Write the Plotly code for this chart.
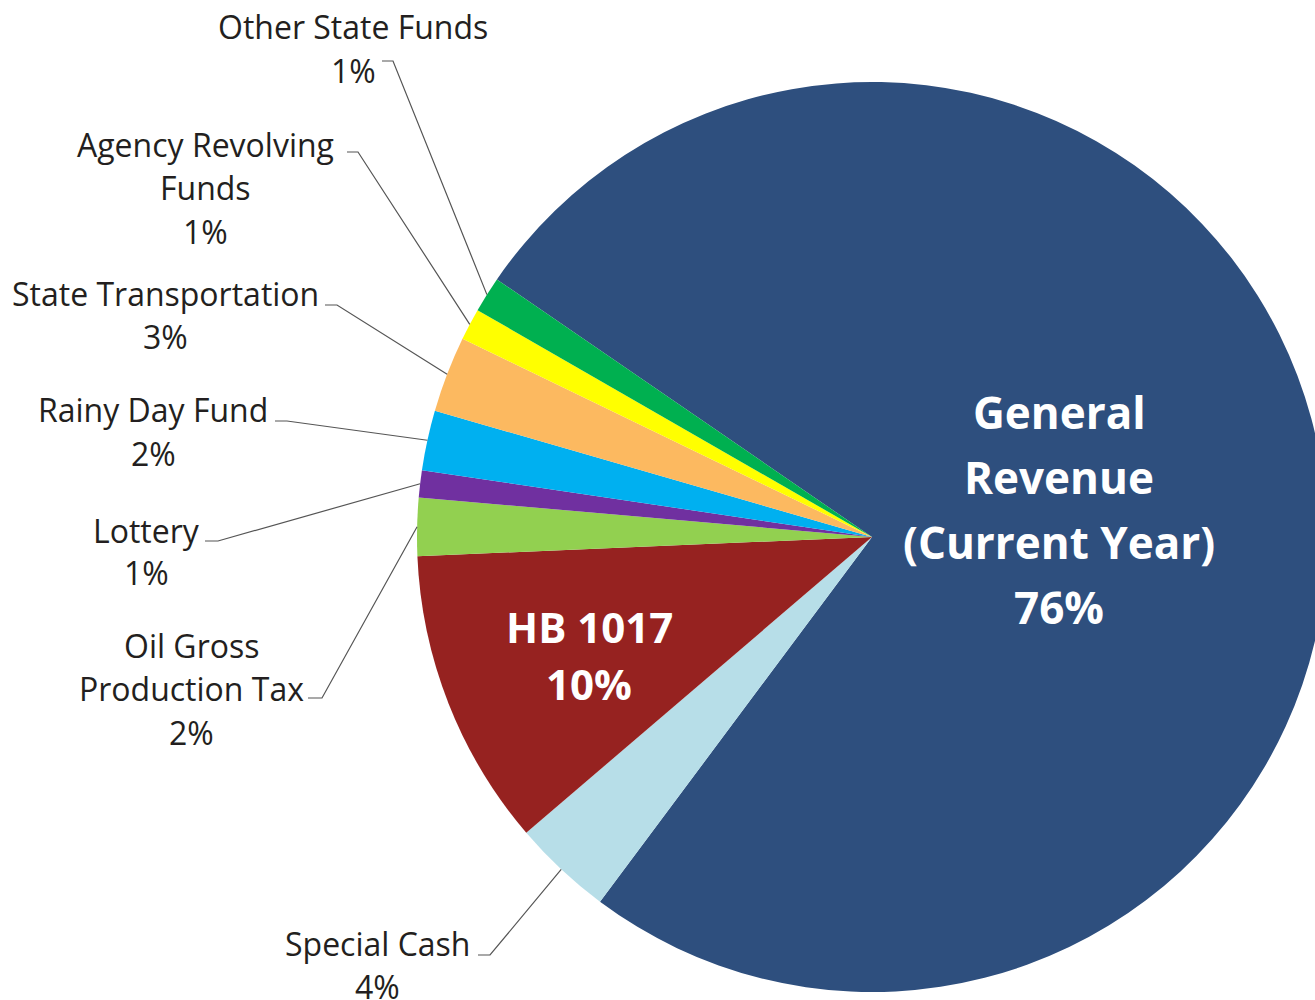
import math
import plotly.graph_objects as go

# ---------------- data ----------------
categories = ["General Revenue (Current Year)", "Special Cash", "HB 1017",
              "Oil Gross Production Tax", "Lottery", "Rainy Day Fund",
              "State Transportation", "Agency Revolving Funds", "Other State Funds"]
values = [75.63, 3.54, 10.59, 2.06, 0.96, 2.13, 2.70, 1.13, 1.27]
pct_labels = ["76%", "4%", "10%", "2%", "1%", "2%", "3%", "1%", "1%"]
label_lines = [["General", "Revenue", "(Current Year)"], ["Special Cash"], ["HB 1017"],
               ["Oil Gross", "Production Tax"], ["Lottery"], ["Rainy Day Fund"],
               ["State Transportation"], ["Agency Revolving", "Funds"], ["Other State Funds"]]
colors = ["#2E4F7E", "#B7DEE8", "#962220", "#92D050", "#7030A0",
          "#00B0F0", "#FCB960", "#FFFF00", "#00B050"]

# ---------------- layout geometry (pixels) ----------------
W, H = 1327, 1000
CX, CY, R = 872, 537, 455
START_DEG = 145.53          # math angle where first slice starts (clockwise)

# label placement: center x, first line y, line spacing, inside?, stub (x0, x1, y)
label_layout = [
    dict(x=1059, y=412, dy=65, inside=True, size=44),
    dict(x=377, y=943.5, dy=43, stub=(478, 490, 955)),
    dict(x=589, y=626, dy=57, inside=True, size=42),
    dict(x=191, y=645, dy=43.5, stub=(308, 322, 698)),
    dict(x=146, y=530, dy=42.5, stub=(205, 218, 541)),
    dict(x=153, y=410, dy=43.5, stub=(275, 287, 421)),
    dict(x=165, y=293.5, dy=43.5, stub=(325, 337, 305)),
    dict(x=205, y=144, dy=44, stub=(347, 358, 152)),
    dict(x=353, y=26.5, dy=43.5, stub=(382, 393, 61)),
]

FONT = "Open Sans, Lato, Noto Sans, sans-serif"


def px(x):
    return x / W


def py(y):
    return 1 - y / H


fig = go.Figure()
fig.add_trace(go.Pie(
    labels=categories, values=values, sort=False, direction="clockwise",
    rotation=-(START_DEG - 90), textinfo="none", hoverinfo="label+percent",
    marker=dict(colors=colors, line=dict(width=0)),
    domain=dict(x=[(CX - R) / W, (CX + R) / W], y=[1 - (CY + R) / H, 1 - (CY - R) / H]),
    showlegend=False,
))

annotations = []
shapes = []
total = sum(values)
cum = 0.0
for i, v in enumerate(values):
    mid = math.radians(START_DEG - (cum + v / 2) / total * 360)
    cum += v
    lay = label_layout[i]
    lines = label_lines[i] + [pct_labels[i]]
    for k, t in enumerate(lines):
        if lay.get("inside"):
            annotations.append(dict(
                x=px(lay["x"]), y=py(lay["y"] + k * lay["dy"]), xref="paper", yref="paper",
                text="<b>" + t + "</b>", showarrow=False, xanchor="center", yanchor="middle",
                font=dict(family=FONT, size=lay["size"], color="white")))
        else:
            annotations.append(dict(
                x=px(lay["x"]), y=py(lay["y"] + k * lay["dy"]), xref="paper", yref="paper",
                text=t, showarrow=False, xanchor="center", yanchor="middle",
                font=dict(family=FONT, size=32, color="#231F20")))
    if "stub" in lay:
        x0, x1, ys = lay["stub"]
        ex = CX + R * math.cos(mid)
        ey = CY - R * math.sin(mid)
        path = "M {} {} L {} {} L {} {}".format(px(x0), py(ys), px(x1), py(ys), px(ex), py(ey))
        shapes.append(dict(type="path", xref="paper", yref="paper", path=path,
                           line=dict(color="#555555", width=1.2)))

fig.update_layout(
    width=W, height=H, margin=dict(l=0, r=0, t=0, b=0),
    paper_bgcolor="white", plot_bgcolor="white",
    annotations=annotations, shapes=shapes,
)

fig.write_html("out.html", config={"displayModeBar": False},
               post_script="document.body.style.margin='0';document.body.style.overflow='hidden';"
                           "document.documentElement.style.overflow='hidden';")
